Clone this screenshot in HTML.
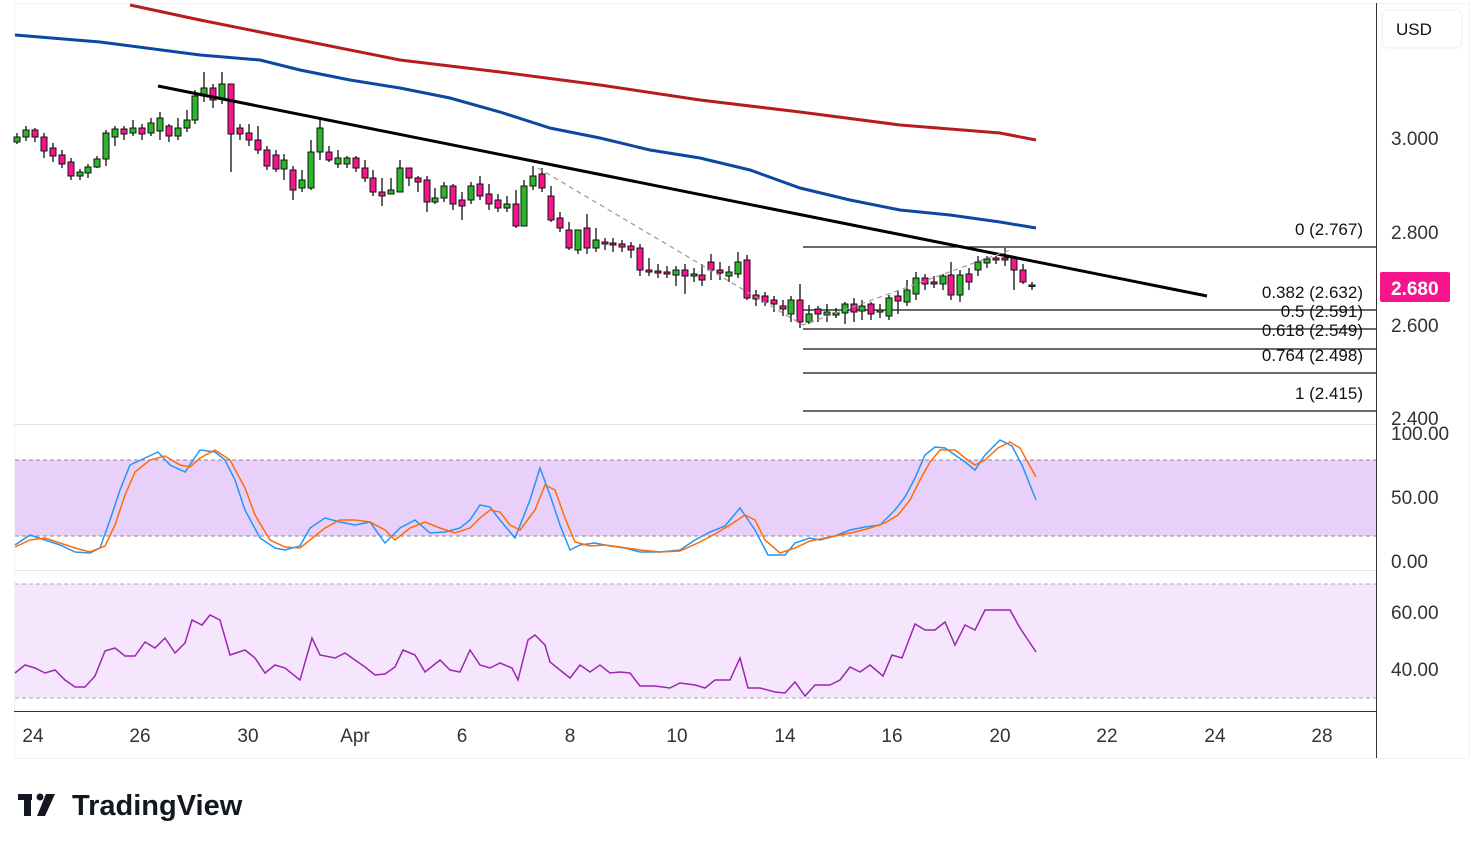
<!DOCTYPE html>
<html><head><meta charset="utf-8"><style>
html,body{margin:0;padding:0;background:#fff;}
svg{display:block;font-family:"Liberation Sans",sans-serif;}
.g{fill:#2bb52b;stroke:#111;stroke-width:1}
.r{fill:#f7148c;stroke:#111;stroke-width:1}
</style></head><body>
<svg width="1484" height="849" viewBox="0 0 1484 849" xmlns="http://www.w3.org/2000/svg">
<rect width="1484" height="849" fill="#fff"/>
<rect x="14.5" y="3.5" width="1455" height="755" fill="none" stroke="#f0f3fa"/>
<line x1="1376.5" y1="3" x2="1376.5" y2="758" stroke="#333"/>
<line x1="14" y1="424.5" x2="1376" y2="424.5" stroke="#e0e3eb"/>
<line x1="14" y1="570.5" x2="1376" y2="570.5" stroke="#e0e3eb"/>
<line x1="14" y1="711.5" x2="1376" y2="711.5" stroke="#333"/>
<rect x="15" y="460" width="1361" height="76" fill="#e9d0fb"/>
<line x1="15" y1="460" x2="1376" y2="460" stroke="#888" stroke-dasharray="4,3"/>
<line x1="15" y1="536" x2="1376" y2="536" stroke="#888" stroke-dasharray="4,3"/>
<rect x="15" y="584" width="1361" height="114" fill="#f5e6fd"/>
<line x1="15" y1="584" x2="1376" y2="584" stroke="#aaa" stroke-dasharray="4,3"/>
<line x1="15" y1="698" x2="1376" y2="698" stroke="#aaa" stroke-dasharray="4,3"/>
<g stroke="#111" stroke-width="1.2">
<line x1="803" y1="247" x2="1376" y2="247"/>
<line x1="803" y1="310" x2="1376" y2="310"/>
<line x1="803" y1="329" x2="1376" y2="329"/>
<line x1="803" y1="349" x2="1376" y2="349"/>
<line x1="803" y1="373" x2="1376" y2="373"/>
<line x1="803" y1="411" x2="1376" y2="411"/>
</g>
<g font-size="17" fill="#111" text-anchor="end">
<text x="1363" y="235">0 (2.767)</text>
<text x="1363" y="298">0.382 (2.632)</text>
<text x="1363" y="317">0.5 (2.591)</text>
<text x="1363" y="336">0.618 (2.549)</text>
<text x="1363" y="361">0.764 (2.498)</text>
<text x="1363" y="399">1 (2.415)</text>
</g>
<polyline fill="none" stroke="#b71c1c" stroke-width="3" points="130,5 200,20 300,40 400,60 500,72 600,85 700,100 800,112 900,125 1000,133 1036,140"/>
<polyline fill="none" stroke="#0d47a1" stroke-width="3" points="15,35 100,42 200,55 260,60 300,70 350,80 400,88 450,98 500,112 550,128 600,138 650,150 700,158 750,170 800,188 850,200 900,210 950,215 1000,222 1036,228"/>
<path fill="none" stroke="#111" stroke-width="1.3" d="
M17 133V144M26 126V141M35 128V142M44 133V158M53 143V162M62 150V168M71 158V180M80 169V180M88 164V178M97 156V168M106 130V166M115 126V146M124 126V140M133 120V136M142 124V140M151 118V136M160 112V140M169 124V142M178 118V140M187 110V132M195 90V124M204 72V102M213 84V108M222 72V104M231 84V172M240 124V140M249 124V146M258 126V154M267 146V170M276 150V172M284 154V180M293 166V200M302 170V192M311 140V190M320 118V160M329 146V162M338 150V168M347 156V168M356 156V172M365 160V182M373 170V196M382 178V206M391 178V194M400 160V186M409 170V186M418 176V192M427 176V212M435 188V204M444 182V202M453 184V210M462 192V220M471 182V204M480 176V200M489 184V210M498 194V212M507 196V212M516 190V228M524 180V214M533 166V190M542 168V192M551 186V222M560 212V232M569 222V250M578 232V254M587 214V254M596 228V252M605 238V250M613 238V252M622 240V252M631 242V258M640 244V276M649 258V276M658 264V278M667 266V278M676 266V286M685 264V294M694 268V282M702 264V286M711 254V280M720 262V280M729 266V282M738 252V278M747 255V300M756 290V306M765 292V306M774 296V312M783 300V316M791 296V322M800 284V328M809 305V324M818 306V322M827 304V322M836 308V318M845 302V324M854 298V322M862 300V320M871 302V320M880 304V318M889 295V320M898 290V314M907 280V306M916 272V300M925 274V290M934 276V288M943 274V290M951 262V300M960 270V302M969 268V290M978 256V276M987 256V268M996 256V264M1005 248V266M1014 258V290M1023 264V284M1032 282V290"/>
<g>
<rect class="g" x="14" y="137" width="6" height="5"/>
<rect class="g" x="23" y="130" width="6" height="7"/>
<rect class="r" x="32" y="130" width="6" height="7"/>
<rect class="r" x="41" y="137" width="6" height="14"/>
<rect class="r" x="50" y="148" width="6" height="8"/>
<rect class="r" x="59" y="155" width="6" height="9"/>
<rect class="r" x="68" y="162" width="6" height="14"/>
<rect class="g" x="77" y="172" width="6" height="4"/>
<rect class="g" x="85" y="167" width="6" height="6"/>
<rect class="g" x="94" y="159" width="6" height="8"/>
<rect class="g" x="103" y="133" width="6" height="26"/>
<rect class="g" x="112" y="129" width="6" height="8"/>
<rect class="r" x="121" y="129" width="6" height="5"/>
<rect class="g" x="130" y="128" width="6" height="5"/>
<rect class="r" x="139" y="128" width="6" height="6"/>
<rect class="g" x="148" y="123" width="6" height="10"/>
<rect class="g" x="157" y="118" width="6" height="13"/>
<rect class="r" x="166" y="126" width="6" height="10"/>
<rect class="g" x="175" y="128" width="6" height="8"/>
<rect class="g" x="184" y="120" width="6" height="8"/>
<rect class="g" x="192" y="96" width="6" height="24"/>
<rect class="g" x="201" y="88" width="6" height="8"/>
<rect class="r" x="210" y="88" width="6" height="12"/>
<rect class="g" x="219" y="84" width="6" height="14"/>
<rect class="r" x="228" y="84" width="6" height="50"/>
<rect class="r" x="237" y="128" width="6" height="6"/>
<rect class="r" x="246" y="133" width="6" height="7"/>
<rect class="r" x="255" y="140" width="6" height="10"/>
<rect class="r" x="264" y="150" width="6" height="16"/>
<rect class="r" x="273" y="155" width="6" height="14"/>
<rect class="g" x="281" y="160" width="6" height="9"/>
<rect class="r" x="290" y="170" width="6" height="20"/>
<rect class="g" x="299" y="180" width="6" height="8"/>
<rect class="g" x="308" y="152" width="6" height="36"/>
<rect class="g" x="317" y="128" width="6" height="24"/>
<rect class="r" x="326" y="152" width="6" height="8"/>
<rect class="g" x="335" y="158" width="6" height="6"/>
<rect class="g" x="344" y="158" width="6" height="6"/>
<rect class="r" x="353" y="158" width="6" height="10"/>
<rect class="r" x="362" y="168" width="6" height="10"/>
<rect class="r" x="370" y="178" width="6" height="14"/>
<rect class="r" x="379" y="192" width="6" height="4"/>
<rect class="g" x="388" y="190" width="6" height="4"/>
<rect class="g" x="397" y="168" width="6" height="24"/>
<rect class="r" x="406" y="168" width="6" height="10"/>
<rect class="r" x="415" y="178" width="6" height="4"/>
<rect class="r" x="424" y="180" width="6" height="22"/>
<rect class="g" x="432" y="198" width="6" height="4"/>
<rect class="g" x="441" y="186" width="6" height="12"/>
<rect class="r" x="450" y="186" width="6" height="18"/>
<rect class="r" x="459" y="200" width="6" height="6"/>
<rect class="g" x="468" y="186" width="6" height="14"/>
<rect class="r" x="477" y="184" width="6" height="12"/>
<rect class="r" x="486" y="194" width="6" height="10"/>
<rect class="r" x="495" y="200" width="6" height="8"/>
<rect class="g" x="504" y="204" width="6" height="4"/>
<rect class="r" x="513" y="204" width="6" height="22"/>
<rect class="g" x="521" y="186" width="6" height="40"/>
<rect class="g" x="530" y="176" width="6" height="10"/>
<rect class="r" x="539" y="174" width="6" height="14"/>
<rect class="r" x="548" y="196" width="6" height="24"/>
<rect class="r" x="557" y="218" width="6" height="10"/>
<rect class="r" x="566" y="230" width="6" height="18"/>
<rect class="g" x="575" y="230" width="6" height="20"/>
<rect class="r" x="584" y="228" width="6" height="20"/>
<rect class="g" x="593" y="240" width="6" height="8"/>
<rect class="r" x="602" y="242" width="6" height="2"/>
<rect class="r" x="610" y="243" width="6" height="2"/>
<rect class="r" x="619" y="244" width="6" height="3"/>
<rect class="r" x="628" y="246" width="6" height="4"/>
<rect class="r" x="637" y="248" width="6" height="22"/>
<rect class="r" x="646" y="270" width="6" height="2"/>
<rect class="r" x="655" y="271" width="6" height="2"/>
<rect class="r" x="664" y="272" width="6" height="2"/>
<rect class="g" x="673" y="270" width="6" height="5"/>
<rect class="r" x="682" y="270" width="6" height="6"/>
<rect class="g" x="691" y="274" width="6" height="2"/>
<rect class="r" x="699" y="275" width="6" height="5"/>
<rect class="r" x="708" y="262" width="6" height="8"/>
<rect class="r" x="717" y="270" width="6" height="3"/>
<rect class="g" x="726" y="272" width="6" height="4"/>
<rect class="g" x="735" y="262" width="6" height="12"/>
<rect class="r" x="744" y="260" width="6" height="38"/>
<rect class="r" x="753" y="295" width="6" height="4"/>
<rect class="r" x="762" y="296" width="6" height="6"/>
<rect class="r" x="771" y="300" width="6" height="4"/>
<rect class="r" x="780" y="306" width="6" height="3"/>
<rect class="g" x="788" y="300" width="6" height="14"/>
<rect class="r" x="797" y="300" width="6" height="22"/>
<rect class="g" x="806" y="314" width="6" height="8"/>
<rect class="r" x="815" y="309" width="6" height="5"/>
<rect class="g" x="824" y="312" width="6" height="3"/>
<rect class="g" x="833" y="313" width="6" height="2"/>
<rect class="g" x="842" y="304" width="6" height="9"/>
<rect class="r" x="851" y="304" width="6" height="8"/>
<rect class="g" x="859" y="306" width="6" height="5"/>
<rect class="r" x="868" y="304" width="6" height="10"/>
<rect class="g" x="877" y="310" width="6" height="2"/>
<rect class="g" x="886" y="298" width="6" height="18"/>
<rect class="r" x="895" y="296" width="6" height="5"/>
<rect class="g" x="904" y="290" width="6" height="12"/>
<rect class="g" x="913" y="278" width="6" height="16"/>
<rect class="r" x="922" y="278" width="6" height="6"/>
<rect class="r" x="931" y="282" width="6" height="2"/>
<rect class="g" x="940" y="276" width="6" height="8"/>
<rect class="r" x="948" y="275" width="6" height="20"/>
<rect class="g" x="957" y="275" width="6" height="20"/>
<rect class="r" x="966" y="274" width="6" height="8"/>
<rect class="g" x="975" y="262" width="6" height="8"/>
<rect class="g" x="984" y="259" width="6" height="4"/>
<rect class="r" x="993" y="258" width="6" height="2"/>
<rect class="r" x="1002" y="258" width="6" height="2"/>
<rect class="r" x="1011" y="258" width="6" height="12"/>
<rect class="r" x="1020" y="270" width="6" height="12"/>
<rect class="r" x="1029" y="285" width="6" height="1.5"/>
</g>
<line x1="158" y1="86" x2="1207" y2="296" stroke="#000" stroke-width="3"/>
<polyline fill="none" stroke="#999" stroke-width="1.2" stroke-dasharray="5,4" points="538,168 803,325 1010,250"/>
<polyline fill="none" stroke="#2196f3" stroke-width="1.5" points="15,545 30,535 45,540 60,545 75,552 90,553 100,548 110,520 120,490 130,465 145,458 158,452 170,465 185,472 200,450 215,452 225,460 235,480 245,510 260,538 275,548 285,550 300,546 310,528 325,518 340,522 355,525 370,522 385,543 400,528 415,520 430,533 445,532 460,528 470,520 480,505 490,507 500,520 515,538 530,500 540,468 550,495 560,525 570,550 580,545 595,543 610,546 625,548 640,552 660,552 680,550 695,540 710,532 725,526 740,508 755,530 768,555 785,555 795,543 810,538 820,540 835,536 850,530 865,527 880,525 895,510 905,497 915,478 925,455 935,447 945,448 955,455 965,462 975,470 985,455 1000,440 1012,446 1022,465 1036,500"/>
<polyline fill="none" stroke="#ff6d00" stroke-width="1.5" points="15,547 30,540 45,538 60,543 75,548 90,552 105,546 115,525 125,495 135,472 150,460 165,456 180,465 190,467 200,458 215,450 230,460 245,488 255,515 270,540 285,547 300,548 310,540 325,528 340,520 355,520 370,522 385,530 395,540 410,528 425,522 440,528 455,533 470,528 480,518 490,510 500,512 510,525 520,530 535,510 545,485 555,490 565,518 575,542 590,546 605,545 620,547 640,550 660,552 680,551 700,542 715,534 730,525 745,515 755,520 765,540 780,553 795,548 810,541 825,538 840,535 855,532 870,528 885,523 898,515 910,500 920,480 930,462 940,450 955,450 965,458 975,465 985,460 998,448 1010,442 1020,448 1036,477"/>
<polyline fill="none" stroke="#9c27b0" stroke-width="1.5" points="15,673 25,665 35,668 45,673 55,670 65,680 75,687 85,687 95,676 105,651 115,648 125,656 135,656 145,642 155,648 165,638 175,653 185,643 192,620 202,625 210,615 220,620 230,655 245,650 255,658 265,673 275,665 285,668 300,680 312,638 320,655 335,658 345,653 355,660 365,667 375,675 385,674 395,667 403,650 415,655 425,672 440,660 450,670 460,672 470,650 480,665 490,668 500,663 512,668 518,680 528,640 535,635 545,645 550,662 560,670 570,678 580,665 590,672 600,665 610,673 620,672 630,673 640,686 655,686 670,688 680,683 695,685 705,688 715,680 730,680 740,658 748,688 760,688 775,692 785,693 795,682 805,696 815,685 830,685 840,680 850,667 860,672 870,665 883,676 892,655 902,658 915,624 925,630 935,630 945,622 955,645 965,625 975,630 985,610 995,610 1010,610 1020,628 1036,652"/>
<g font-size="19" fill="#333">
<text x="1391" y="145">3.000</text>
<text x="1391" y="239">2.800</text>
<text x="1391" y="332">2.600</text>
<text x="1391" y="425">2.400</text>
<text x="1391" y="440">100.00</text>
<text x="1391" y="504">50.00</text>
<text x="1391" y="568">0.00</text>
<text x="1391" y="619">60.00</text>
<text x="1391" y="676">40.00</text>
</g>
<rect x="1380" y="272" width="70" height="30" rx="2" fill="#f7148c"/>
<text x="1391" y="295" font-size="19" fill="#fff" font-weight="bold">2.680</text>
<rect x="1382" y="10" width="80" height="38" rx="6" fill="#fff" stroke="#eee"/>
<text x="1396" y="35" font-size="17" fill="#111">USD</text>
<g font-size="19" fill="#333" text-anchor="middle">
<text x="33" y="742">24</text><text x="140" y="742">26</text><text x="248" y="742">30</text>
<text x="355" y="742">Apr</text><text x="462" y="742">6</text><text x="570" y="742">8</text>
<text x="677" y="742">10</text><text x="785" y="742">14</text><text x="892" y="742">16</text>
<text x="1000" y="742">20</text><text x="1107" y="742">22</text><text x="1215" y="742">24</text>
<text x="1322" y="742">28</text>
</g>
<g fill="#131722">
<rect x="18" y="794" width="14" height="6"/><rect x="24" y="794" width="7" height="22"/>
<circle cx="40" cy="797" r="3.5"/>
<polygon points="46,794 55,794 45,816 37,816"/>
</g>
<text x="72" y="815" font-size="29" font-weight="bold" fill="#131722">TradingView</text>
</svg>
</body></html>
